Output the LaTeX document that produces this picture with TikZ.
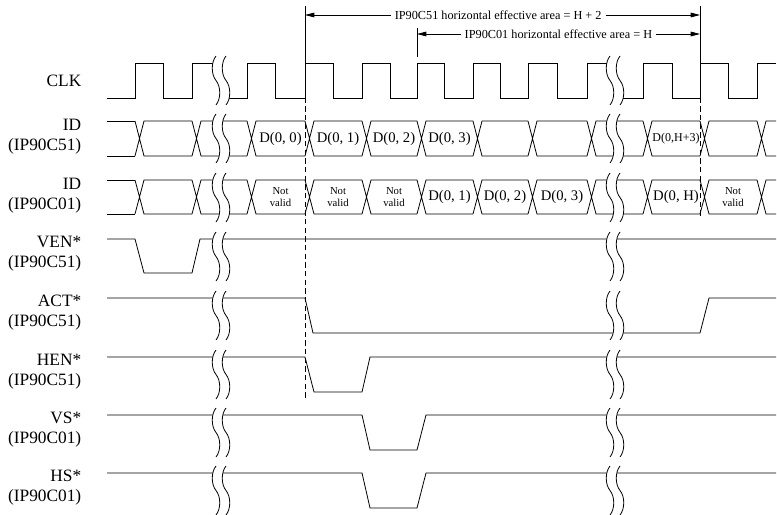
\documentclass[tikz,border=0pt]{standalone}
\usepackage{fontspec}
\setmainfont{Liberation Serif}
\usetikzlibrary{arrows.meta}
\newcommand{\brk}[2]{%
  \fill[white] (#1,{#2-7}) .. controls ({#1-5},{#2-0.9}) and ({#1-5},{#2+11.4}) .. (#1,{#2+17.5}) .. controls ({#1+5},{#2+23.6}) and ({#1+5},{#2+35.9}) .. (#1,{#2+42}) -- ({#1+10},{#2+42}) .. controls ({#1+15},{#2+35.9}) and ({#1+15},{#2+23.6}) .. ({#1+10},{#2+17.5}) .. controls ({#1+5},{#2+11.4}) and ({#1+5},{#2-0.9}) .. ({#1+10},{#2-7}) -- cycle;
  \foreach \d in {0,10}
    \draw ({#1+\d},{#2-7}) .. controls ({#1+\d-5},{#2-0.9}) and ({#1+\d-5},{#2+11.4}) .. ({#1+\d},{#2+17.5}) .. controls ({#1+\d+5},{#2+23.6}) and ({#1+\d+5},{#2+35.9}) .. ({#1+\d},{#2+42});}
\begin{document}
\begin{tikzpicture}[x=0.75pt,y=-0.75pt,line width=0.6pt,
            lbl/.style={anchor=east,align=right,inner sep=1pt,font=\fontsize{13}{15}\selectfont},
            dat/.style={inner sep=0pt,font=\fontsize{11}{13}\selectfont},
            nv/.style={align=center,inner sep=0pt,font=\fontsize{8}{9}\selectfont},
            sml/.style={inner sep=3pt,font=\fontsize{9.2}{11}\selectfont},
            arr/.style={{Triangle[length=7pt,width=3.5pt]}-{Triangle[length=7pt,width=3.5pt]}},
            guide/.style={dash pattern=on 4pt off 2.5pt}]
            \useasboundingbox (0,0) rectangle (777,514);

            \node[lbl] (clk) at (83,81) {CLK};
            \node[lbl] (id1) at (83,137) {ID\\(IP90C51)};
            \node[lbl] (id2) at (83,196) {ID\\(IP90C01)};
            \node[lbl] (ven) at (83,254) {VEN*\\(IP90C51)};
            \node[lbl] (act) at (83,313) {ACT*\\(IP90C51)};
            \node[lbl] (hen) at (83,372) {HEN*\\(IP90C51)};
            \node[lbl] (vs) at (83,430) {VS*\\(IP90C01)};
            \node[lbl] (hs) at (83,488) {HS*\\(IP90C01)};

            \draw (107,98) -| (135,63) -| (163,98) -| (192,63) -| (221,98) -| (247,63) -| (275,98) -| (305,63) -| (333,98) -| (362,63) -| (390,98) -| (417,63) -| (444,98) -| (473,63) -| (500,98) -| (528,63) -| (557,98) -| (587,63) -| (615,98) -| (643,63) -| (672,98) -| (700,63) -| (728,98) -| (757,63) -- (776,63);

            \foreach \ya/\yb in {121/156,180/214} {
                \draw (107,\ya) -- (135,\ya) (107,\yb) -- (135,\yb);
                \foreach \xa/\xb in {135/192,192/247,247/305,305/362,362/417,417/473,473/528,528/587,587/643,643/700,700/757,757/776}
                    \draw (\xa,\ya) -- ({\xa+9},\yb) -- (\xb,\yb) (\xa,\yb) -- ({\xa+9},\ya) -- (\xb,\ya);
            }

            \draw (107,239) -- (135,239) -- (144,273) -- (192,273) -- (200,239) -- (776,239);
            \draw (107,298) -- (305,298) -- (313,333) -- (700,333) -- (709,298) -- (776,298);
            \draw (107,357) -- (305,357) -- (314,392) -- (362,392) -- (370,357) -- (776,357);
            \draw (107,415) -- (362,415) -- (370,450) -- (417,450) -- (426,415) -- (776,415);
            \draw (107,473) -- (362,473) -- (370,508) -- (417,508) -- (426,473) -- (776,473);

            \foreach \y in {63,121,180,239,298,357,415,473} {
                \brk{216}{\y}
                \brk{610}{\y}
            }

            \node[dat] (a0) at (280.5,138.5) {D(0, 0)};
            \node[dat] (a1) at (338,138.5) {D(0, 1)};
            \node[dat] (a2) at (394,138.5) {D(0, 2)};
            \node[dat] (a3) at (449.5,138.5) {D(0, 3)};
            \node[dat,font=\fontsize{9}{10}\selectfont] (aH) at (676,138.5) {D(0,H+3)};

            \node[nv] (n1) at (280.5,197) {Not\\valid};
            \node[nv] (n2) at (338,197) {Not\\valid};
            \node[nv] (n3) at (394,197) {Not\\valid};
            \node[dat] (b1) at (449.5,197) {D(0, 1)};
            \node[dat] (b2) at (505,197) {D(0, 2)};
            \node[dat] (b3) at (562,197) {D(0, 3)};
            \node[dat] (bH) at (676,197) {D(0, H)};
            \node[nv] (n4) at (733,197) {Not\\valid};

            \draw (305,6) -- (305,63);
            \draw[guide] (305,63) -- (305,398);
            \draw (700,6) -- (700,63);
            \draw[guide] (700,63) -- (700,218);
            \draw (417,28) -- (417,57);

            \coordinate (L1) at (305,15);
            \coordinate (R1) at (700,15);
            \coordinate (L2) at (417,34);
            \coordinate (R2) at (700,34);
            \draw[arr] (L1) -- node[sml,fill=white,pos=0.489] (t1) {IP90C51 horizontal effective area = H + 2} (R1);
            \draw[arr] (L2) -- node[sml,fill=white] (t2) {IP90C01 horizontal effective area = H} (R2);
        \end{tikzpicture}
\end{document}
